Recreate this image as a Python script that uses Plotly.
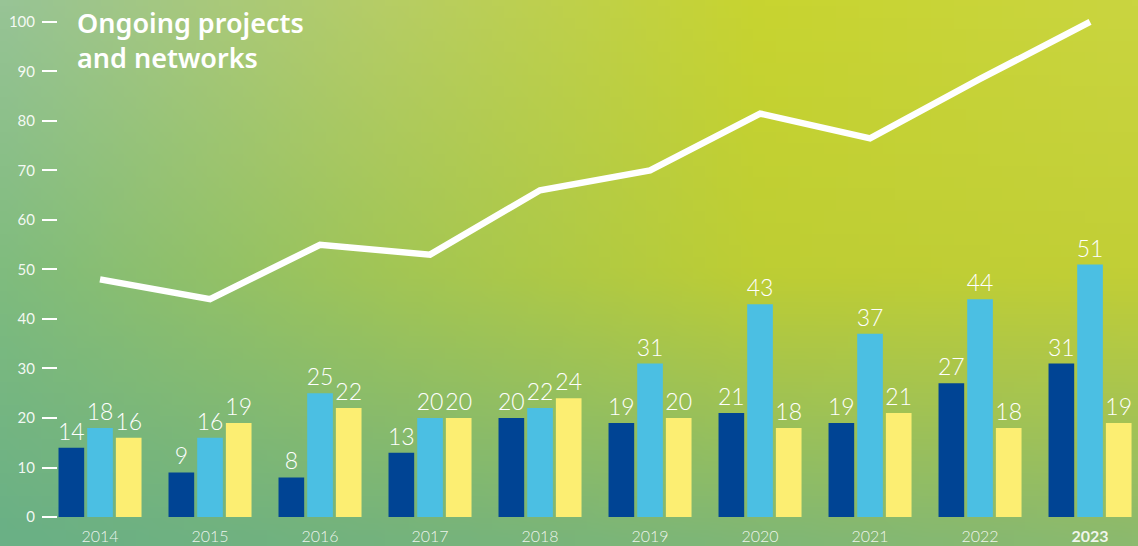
import base64
import struct
import zlib

import numpy as np
import plotly.graph_objects as go

# ---- data -------------------------------------------------------------
years = ["2014", "2015", "2016", "2017", "2018", "2019", "2020", "2021", "2022", "2023"]
series_a = [14, 9, 8, 13, 20, 19, 21, 19, 27, 31]      # dark blue bars
series_b = [18, 16, 25, 20, 22, 31, 43, 37, 44, 51]    # light blue bars
series_c = [16, 19, 22, 20, 24, 20, 18, 21, 18, 19]    # yellow bars
ongoing_total = [48, 44, 55, 53, 66, 70, 81.5, 76.5, 88.5, 100]
y_ticks = [0, 10, 20, 30, 40, 50, 60, 70, 80, 90, 100]
x_tick_text = years[:-1] + ["<b>2023</b>"]
title_text = "Ongoing projects<br>and networks"

W, H = 1138, 546

# ---- background gradient as a small PNG, stretched over the page ------
grid = np.array([
    [[152, 196, 150], [182, 205, 102], [200, 212, 48], [202, 213, 64]],
    [[128, 188, 126], [162, 198, 86], [190, 206, 52], [194, 207, 54]],
    [[106, 176, 134], [116, 179, 126], [128, 183, 118], [140, 186, 110]],
], dtype=float)


def gradient_png(w, h):
    gy = np.linspace(0, 1, grid.shape[0])
    gx = np.linspace(0, 1, grid.shape[1])
    ys = np.linspace(0, 1, h)
    xs = np.linspace(0, 1, w)
    img = np.zeros((h, w, 3))
    for c in range(3):
        cols = np.array([np.interp(ys, gy, grid[:, j, c]) for j in range(grid.shape[1])]).T
        img[:, :, c] = np.array([np.interp(xs, gx, cols[i]) for i in range(h)])
    img = np.clip(img, 0, 255).astype(np.uint8)
    raw = b"".join(b"\x00" + img[i].tobytes() for i in range(h))

    def chunk(tag, data):
        body = tag + data
        return struct.pack(">I", len(data)) + body + struct.pack(">I", zlib.crc32(body) & 0xFFFFFFFF)

    png = b"\x89PNG\r\n\x1a\n"
    png += chunk(b"IHDR", struct.pack(">IIBBBBB", w, h, 8, 2, 0, 0, 0))
    png += chunk(b"IDAT", zlib.compress(raw, 9))
    png += chunk(b"IEND", b"")
    return "data:image/png;base64," + base64.b64encode(png).decode()


# ---- figure -------------------------------------------------------------
fig = go.Figure()

bar_colors = ["#004494", "#4bbfe3", "#fcee72"]
for vals, col in zip([series_a, series_b, series_c], bar_colors):
    fig.add_trace(go.Bar(
        x=years, y=vals, marker=dict(color=col, line=dict(width=0)),
        text=[str(v) for v in vals], textposition="outside",
        constraintext="none", cliponaxis=False,
        textfont=dict(color="white", size=23, family="Lato", weight=300),
        hoverinfo="skip", showlegend=False,
    ))

fig.add_trace(go.Scatter(
    x=years, y=ongoing_total, mode="lines",
    line=dict(color="white", width=6.5),
    cliponaxis=False, hoverinfo="skip", showlegend=False,
))

x0 = 58 / W
y0 = 29 / H
fig.update_layout(
    width=W, height=H,
    margin=dict(l=0, r=0, t=0, b=0),
    paper_bgcolor="#a8c76c", plot_bgcolor="rgba(0,0,0,0)",
    barmode="group", bargap=0.218, bargroupgap=0.105,
    images=[dict(source=gradient_png(96, 48), xref="paper", yref="paper",
                 x=0, y=1, sizex=1, sizey=1, sizing="stretch",
                 xanchor="left", yanchor="top", layer="below")],
    xaxis=dict(domain=[x0, 1], range=[-0.382, 9.436], type="category",
               tickvals=years, ticktext=x_tick_text,
               showgrid=False, zeroline=False, showline=False,
               ticks="", automargin=False, ticklabelstandoff=8,
               tickfont=dict(color="rgba(255,255,255,0.88)", size=16,
                             family="Lato", weight=300)),
    yaxis=dict(domain=[y0, 1], range=[0, 104.44], tickvals=y_ticks,
               showgrid=False, zeroline=False, showline=False,
               ticks="outside", ticklen=15, tickwidth=1.5, tickcolor="white",
               ticklabelstandoff=4, automargin=False,
               tickfont=dict(color="rgba(255,255,255,0.92)", size=15, family="Lato")),
    annotations=[
        dict(text=title_text, xref="paper", yref="paper",
             x=75 / W, y=1 - 2 / H, xanchor="left", yanchor="top", align="left",
             showarrow=False,
             font=dict(color="white", size=27, family="Noto Sans", weight=600)),
    ],
)

fig.write_html("out.html")
